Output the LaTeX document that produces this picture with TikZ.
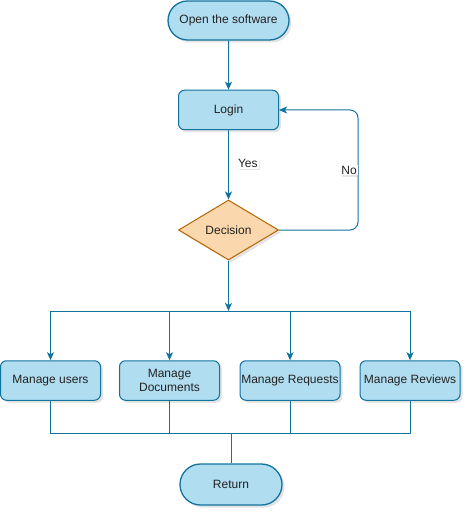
\documentclass[tikz,border=0pt]{standalone}
\usepackage{fontspec}
\setmainfont{Liberation Sans}
\usetikzlibrary{arrows.meta,shapes.geometric,shapes.misc,shadows}
\definecolor{boxfill}{HTML}{B1DDF0}
\definecolor{boxline}{HTML}{10739E}
\definecolor{decfill}{HTML}{FAD7AC}
\definecolor{decline}{HTML}{B46504}
\definecolor{txt}{HTML}{222222}
\tikzset{
  soft/.style={drop shadow={opacity=0.22,shadow xshift=2.5pt,shadow yshift=-2.5pt}},
  terminal/.style={rounded rectangle,draw=boxline,fill=boxfill,line width=1.3pt,
    minimum width=121pt,minimum height=39pt,inner sep=0pt,soft,text=txt,font=\fontsize{12}{13.5}\selectfont},
  process/.style={rectangle,rounded corners=6pt,draw=boxline,fill=boxfill,line width=1pt,
    minimum width=100pt,minimum height=39.5pt,inner sep=0pt,soft,align=center,text=txt,
    font=\fontsize{12}{13.5}\selectfont},
  choice/.style={diamond,draw=decline,fill=decfill,line width=1pt,aspect=1.667,
    minimum width=100pt,minimum height=60pt,inner sep=0pt,soft,text=txt,font=\fontsize{12}{13.5}\selectfont},
  flow/.style={draw=boxline,line width=1pt,-{Stealth[length=8pt,width=7pt,inset=2pt]}},
  plain/.style={draw=boxline,line width=1pt},
  edgelabel/.style={fill=white,inner sep=1pt,text=txt,font=\fontsize{12}{13.5}\selectfont,
    drop shadow={opacity=0.2,shadow xshift=1.5pt,shadow yshift=-1.5pt}}
}
\begin{document}
\begin{tikzpicture}[x=1pt,y=-1pt]
\useasboundingbox (0,0) rectangle (473,518);

% main column
\node[terminal] (start) at (228.5,20.5) {Open the software};
\node[process]  (login) at (228.5,110) {Login};
\node[choice]   (dec)   at (228.5,230) {Decision};

% task boxes
\node[process] (users) at (50.5,380.5)  {Manage users};
\node[process] (docs)  at (169.5,380.5) {Manage\\Documents};
\node[process] (reqs)  at (290,380.5)   {Manage Requests};
\node[process] (revs)  at (410,380.5)   {Manage Reviews};

\node[terminal,minimum width=102pt,minimum height=41pt] (ret) at (231,484.5) {Return};

% branch and merge points
\coordinate (split) at (228.5,311);
\coordinate (join)  at (231,433);
\coordinate (loopcorner) at (358,110);

\draw[flow] (start) -- (login);
\draw[flow] (login) -- (dec) node[edgelabel,pos=0.48,right=8pt] {Yes};
\draw[flow,rounded corners=8pt] (dec.east) -| (loopcorner) -- (login.east);
\node[edgelabel] (nolabel) at (349,170) {No};

\draw[flow] (dec.south) -- (split);
\draw[flow] (split) -| (users.north);
\draw[flow] (split) -| (docs.north);
\draw[flow] (split) -| (reqs.north);
\draw[flow] (split) -| (revs.north);

\draw[plain] (users.south) |- (join);
\draw[plain] (docs.south)  |- (join);
\draw[plain] (reqs.south)  |- (join);
\draw[plain] (revs.south)  |- (join);
\draw[plain] (join) -- (ret.north);
\end{tikzpicture}
\end{document}
